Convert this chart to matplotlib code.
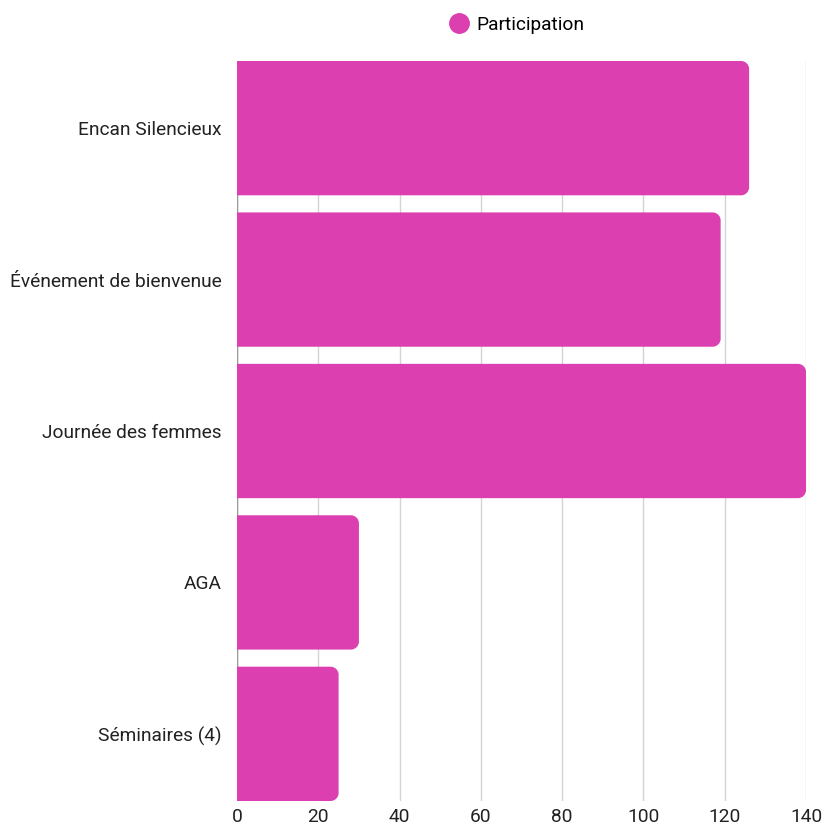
import matplotlib.pyplot as plt
from matplotlib.path import Path
from matplotlib.patches import PathPatch
from matplotlib.lines import Line2D

plt.rcParams['font.family'] = ['Roboto', 'DejaVu Sans']

# data
categories = ['Encan Silencieux', 'Événement de bienvenue', 'Journée des femmes',
              'AGA', 'Séminaires (4)']
participation = [126, 119, 140, 30, 25]
xticks = [0, 20, 40, 60, 80, 100, 120, 140]

bar_color = '#DB3FB0'
bar_h = 0.887

fig = plt.figure(figsize=(8.25, 8.27), dpi=100)
ax = fig.add_axes([237/825, 1-801/827, (806-237)/825, (801-61)/827])

bars = ax.barh(range(len(categories)), participation, height=bar_h, color=bar_color)

ax.set_xlim(0, 140)
ax.set_ylim(len(categories) - 1 + bar_h/2, -bar_h/2)


def rounded_right(rect, rpx=8):
    # rounded corners only on the right side, radius given in pixels
    x0, y0 = rect.get_x(), rect.get_y()
    w, h = rect.get_width(), rect.get_height()
    bbox = ax.get_window_extent()
    sx = bbox.width / (ax.get_xlim()[1] - ax.get_xlim()[0])
    sy = bbox.height / abs(ax.get_ylim()[1] - ax.get_ylim()[0])
    rx, ry = rpx / sx, rpx / sy
    x1, y1 = x0 + w, y0 + h
    k = 0.5523
    verts = [(x0, y0), (x1 - rx, y0),
             (x1 - rx + k*rx, y0), (x1, y0 + ry - k*ry), (x1, y0 + ry),
             (x1, y1 - ry),
             (x1, y1 - ry + k*ry), (x1 - rx + k*rx, y1), (x1 - rx, y1),
             (x0, y1), (x0, y0)]
    codes = [Path.MOVETO, Path.LINETO,
             Path.CURVE4, Path.CURVE4, Path.CURVE4,
             Path.LINETO,
             Path.CURVE4, Path.CURVE4, Path.CURVE4,
             Path.LINETO, Path.CLOSEPOLY]
    return PathPatch(Path(verts, codes), facecolor=rect.get_facecolor(),
                     edgecolor='none', zorder=3)


for b in bars:
    b.set_visible(False)
    ax.add_patch(rounded_right(b))

ax.set_yticks(range(len(categories)))
ax.set_yticklabels(categories, fontsize=13.8, color='#222222')
ax.set_xticks(xticks)
ax.set_xticklabels([str(t) for t in xticks], fontsize=13.8, color='#222222')
ax.tick_params(axis='y', length=0, pad=11)
ax.tick_params(axis='x', length=0, pad=5)

ax.grid(axis='x', color='#d4d4d4', lw=1, zorder=0)
ax.axvline(0, color='#999999', lw=1, zorder=1)
ax.set_axisbelow(True)
for s in ax.spines.values():
    s.set_visible(False)

handle = Line2D([], [], marker='o', ls='none', markersize=14,
                markerfacecolor=bar_color, markeredgecolor=bar_color)
fig.legend([handle], ['Participation'], loc='center', bbox_to_anchor=(516/825, 1-25/827),
           frameon=False, fontsize=13.8, handletextpad=0.35, handlelength=1.2)

fig.savefig('out.png', dpi=100)
